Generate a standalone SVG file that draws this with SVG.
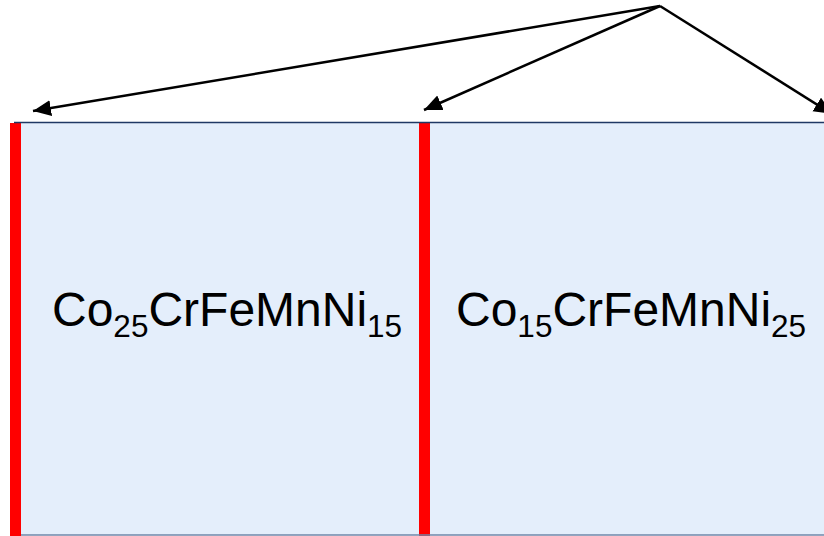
<svg xmlns="http://www.w3.org/2000/svg" width="824" height="536" viewBox="0 0 824 536">
<style>
.box{fill:#e4eefb}
.bar{fill:#ff0000}
.lbl{font-family:"Liberation Sans",Arial,sans-serif;font-size:48px;fill:#000}
.sub{font-size:31.5px}
.conn{stroke:#000;stroke-width:2.5;fill:none}
</style>
<defs>
<marker id="ah" markerUnits="userSpaceOnUse" markerWidth="20" markerHeight="18" refX="18" refY="8" orient="auto">
<path d="M0,0 L18,8 L0,16 Z" fill="#000"/>
</marker>
</defs>
<rect width="824" height="536" fill="#fff"/>
<g id="node1">
<rect class="box" x="21" y="122" width="399" height="413"/>
<rect class="bar" x="10" y="123" width="11" height="413"/>
<text class="lbl" x="52" y="326">Co<tspan class="sub" dy="11">25</tspan><tspan dy="-11">CrFeMnNi</tspan><tspan class="sub" dy="11">15</tspan></text>
</g>
<g id="node2">
<rect class="box" x="430" y="122" width="400" height="413"/>
<rect class="bar" x="419" y="123" width="11" height="413"/>
<text class="lbl" x="456" y="326">Co<tspan class="sub" dy="11">15</tspan><tspan dy="-11">CrFeMnNi</tspan><tspan class="sub" dy="11">25</tspan></text>
</g>
<g id="edges">
<line x1="14" y1="122.5" x2="824" y2="122.5" stroke="#1f3864" stroke-width="1.5"/>
<line x1="21" y1="535" x2="824" y2="535" stroke="#6f86a8" stroke-width="1.5"/>
<line class="conn" x1="660" y1="6" x2="33" y2="111" marker-end="url(#ah)"/>
<line class="conn" x1="660" y1="6" x2="424" y2="110" marker-end="url(#ah)"/>
<line class="conn" x1="660" y1="6" x2="832" y2="114" marker-end="url(#ah)"/>
</g>
</svg>
